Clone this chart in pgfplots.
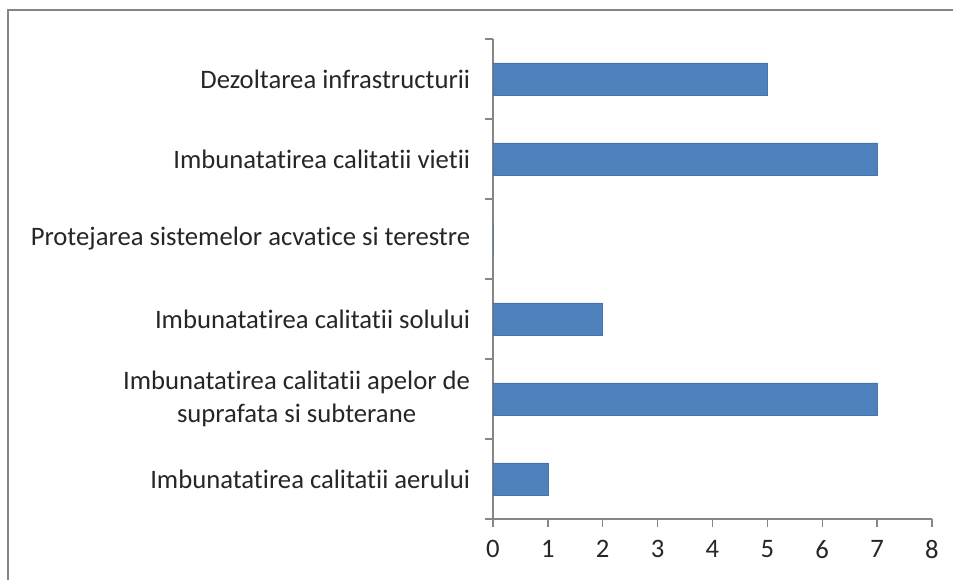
\documentclass[border=0pt]{standalone}
\usepackage{fontspec}
\setmainfont{Carlito}[Ligatures=NoCommon]
\usepackage{pgfplots}
\pgfplotsset{compat=1.18}
\definecolor{barblue}{HTML}{4F81BD}
\definecolor{axgray}{HTML}{868686}
\definecolor{framegray}{HTML}{858585}
\begin{document}
\fontsize{20}{24.5}\selectfont
\begin{tikzpicture}[x=0.75pt,y=0.75pt]
  % picture is 953 x 580 px, origin at the axis corner (493,519)
  \useasboundingbox (-493,-61) rectangle (460,519);
  \begin{scope}
    \clip (-493,-61) rectangle (460,519);
    \draw[framegray, line width=1.6pt] (-485,-80) -- (-485,509) -- (480,509);
  \end{scope}
  \begin{axis}[
      at={(0,0)}, anchor=south west,
      scale only axis, width=329.25pt, height=360pt,
      xbar, bar width=24pt,
      xmin=0, xmax=8, xtick={0,...,8},
      ymin=-0.5, ymax=5.5,
      ytick={0,...,5},
      yticklabels={Imbunatatirea calitatii aerului,
        {Imbunatatirea calitatii apelor de\\suprafata si subterane},
        Imbunatatirea calitatii solului,
        Protejarea sistemelor acvatice si terestre,
        Imbunatatirea calitatii vietii,
        Dezoltarea infrastructurii},
      minor ytick={-0.5,0.5,...,5.5},
      axis lines*=left,
      axis line style={axgray, line width=1pt, -},
      tick style={axgray, line width=1pt},
      tick align=outside,
      major tick length=6pt,
      minor tick length=6pt,
      major y tick style={draw=none},
      yticklabel style={align=center, inner sep=0pt, xshift=-11pt,
        font=\fontsize{20}{24.5}\selectfont, text=black!85},
      xticklabel style={font=\fontsize{20}{24.5}\selectfont, yshift=-3pt,
        text=black!85},
      /pgf/number format/assume math mode=true,
      clip=false,
    ]
    \addplot[fill=barblue, draw=barblue!90!black, line width=0.4pt]
      coordinates {(1,0) (7,1) (2,2) (0,3) (7,4) (5,5)};
  \end{axis}
\end{tikzpicture}
\end{document}
